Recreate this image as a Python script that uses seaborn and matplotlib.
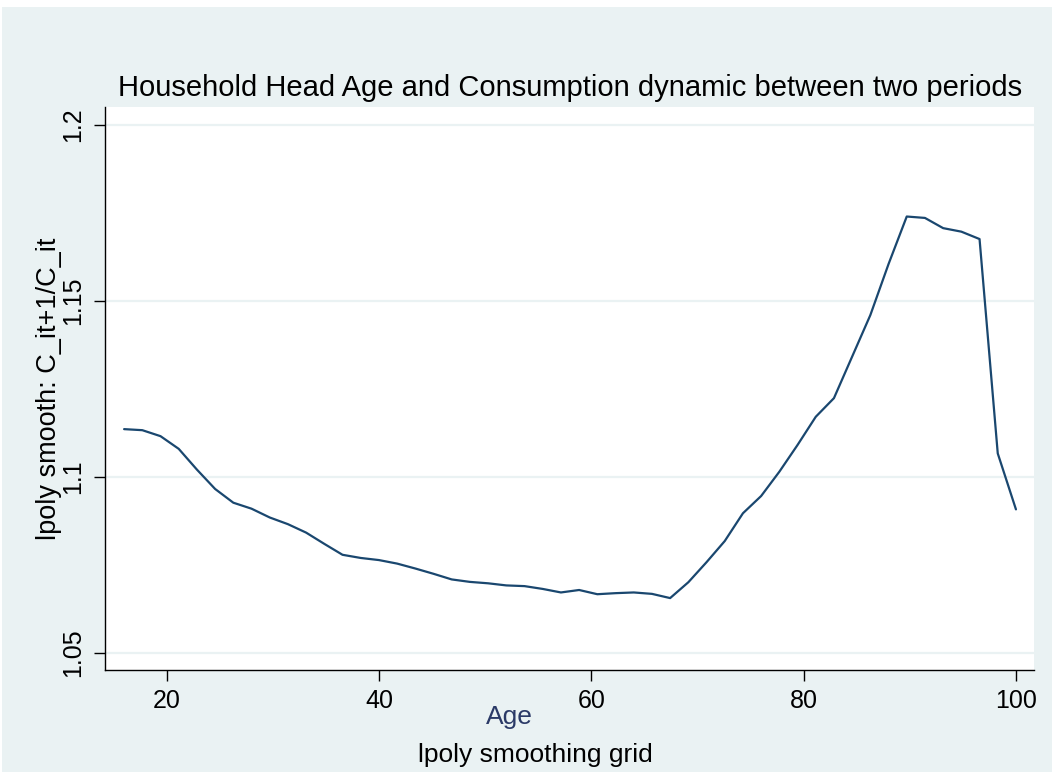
import numpy as np
import pandas as pd
import matplotlib
matplotlib.use('Agg')
import matplotlib.pyplot as plt
import seaborn as sns

# lpoly smoothing grid: 50 points from age 16 to 100
age_min, age_max, n_grid = 16, 100, 50
ratio = [
    1.1136, 1.1133, 1.1116, 1.1080, 1.1021, 1.0966, 1.0927, 1.0910, 1.0885, 1.0866,
    1.0842, 1.0810, 1.0779, 1.0770, 1.0764, 1.0754, 1.0740, 1.0725, 1.0709, 1.0702,
    1.0698, 1.0692, 1.0690, 1.0682, 1.0672, 1.0679, 1.0667, 1.0670, 1.0672, 1.0668,
    1.0656, 1.0701, 1.0758, 1.0818, 1.0897, 1.0946, 1.1015, 1.1091, 1.1171, 1.1224,
    1.1342, 1.1460, 1.1605, 1.1740, 1.1736, 1.1707, 1.1697, 1.1676, 1.1067, 1.0908,
]
x_ticks = [20, 40, 60, 80, 100]
y_ticks = [1.05, 1.1, 1.15, 1.2]
y_tick_labels = ['1.05', '1.1', '1.15', '1.2']

grid = np.linspace(age_min, age_max, n_grid)
df = pd.DataFrame({'grid': grid, 'ratio': ratio})

bg = '#EAF2F3'
line_col = '#1A476F'

sns.set_style('white')
plt.rcParams['font.family'] = ['Liberation Sans', 'DejaVu Sans']
plt.rcParams['text.color'] = 'black'
plt.rcParams['xtick.color'] = 'black'
plt.rcParams['ytick.color'] = 'black'
plt.rcParams['axes.labelcolor'] = 'black'

fig = plt.figure(figsize=(10.52, 7.72), dpi=100)
fig.patch.set_facecolor('white')
# Stata graph region
fig.patches.append(plt.Rectangle((2 / 1052, 0), 1 - 2 / 1052, 1 - 7 / 772,
                                 transform=fig.transFigure, facecolor=bg,
                                 edgecolor='none', zorder=0))

ax = fig.add_axes([105 / 1052, 1 - 670 / 772, (1034 - 105) / 1052, (670 - 107) / 772])
ax.set_zorder(2)
ax.set_facecolor('white')

sns.lineplot(data=df, x='grid', y='ratio', ax=ax, color=line_col, linewidth=1.6)

ax.set_xlim(14.2, 101.7)
ax.set_ylim(1.2 - (670 - 125) / 3520, 1.2 + (125 - 107) / 3520)

ax.set_xticks(x_ticks)
ax.set_yticks(y_ticks)
ax.set_yticklabels(y_tick_labels, rotation=90, va='center')
ax.tick_params(axis='both', direction='out', length=8, width=1, color='black',
               labelsize=18, pad=6, bottom=True, left=True)
ax.yaxis.grid(True, color=bg, linewidth=1.6)
ax.xaxis.grid(False)
ax.set_axisbelow(True)

for s in ['top', 'right']:
    ax.spines[s].set_visible(False)
for s in ['left', 'bottom']:
    ax.spines[s].set_color('black')
    ax.spines[s].set_linewidth(1.0)

ax.set_xlabel('')
ax.set_ylabel('lpoly smooth: C_it+1/C_it', fontsize=19.5, labelpad=0)

fig.text(570 / 1052, 1 - 88 / 772, 'Household Head Age and Consumption dynamic between two periods',
         ha='center', va='center', fontsize=21)
fig.text(509 / 1052, 1 - 717 / 772, 'Age', ha='center', va='center', fontsize=19, color='#2B3A67')
fig.text(535 / 1052, 1 - 755 / 772, 'lpoly smoothing grid', ha='center', va='center', fontsize=19)

fig.savefig('out.png', dpi=100, facecolor=fig.get_facecolor())
